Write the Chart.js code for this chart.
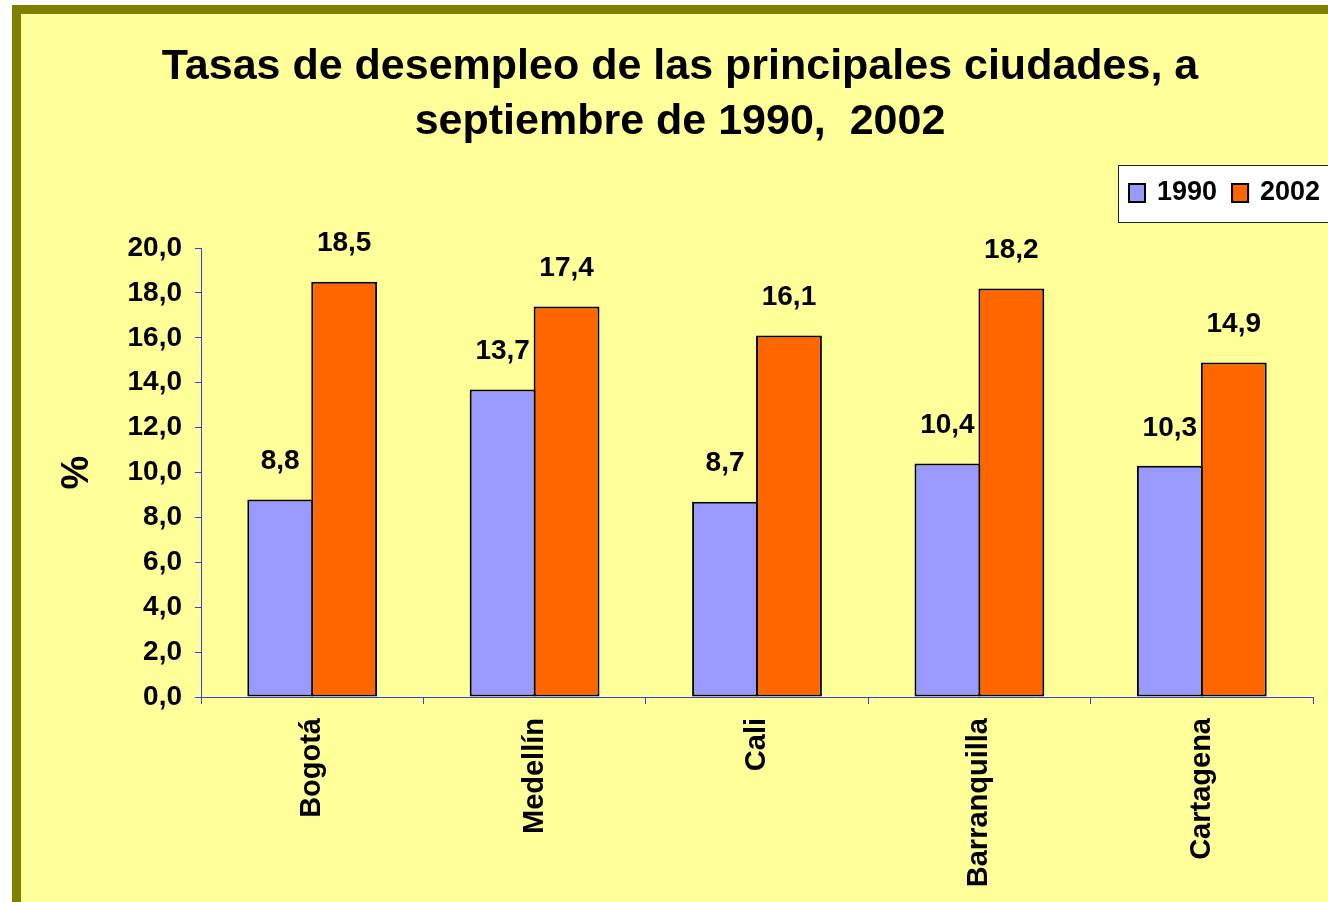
<!DOCTYPE html>
<html>
<head>
<meta charset="utf-8">
<script src="https://cdn.jsdelivr.net/npm/chart.js@4/dist/chart.umd.min.js"></script>
<style>
  html, body { margin: 0; padding: 0; background: #ffffff; overflow: hidden; }
  canvas { display: block; }
</style>
</head>
<body>
<canvas id="grafico" width="1328" height="902"></canvas>
<script>
// datos
const ciudades = ['Bogotá', 'Medellín', 'Cali', 'Barranquilla', 'Cartagena'];
const anios = ['1990', '2002'];
const tasas1990 = [8.8, 13.7, 8.7, 10.4, 10.3];
const tasas2002 = [18.5, 17.4, 16.1, 18.2, 14.9];
const titulo = ['Tasas de desempleo de las principales ciudades, a', 'septiembre de 1990,  2002'];

const fuente = 'Arial, "Liberation Sans", sans-serif';
const azul = '#3a3af0';

function coma(v) {
    return v.toFixed(1).replace('.', ',');
}

// fondo amarillo con marco verde oliva
const fondo = {
    id: 'fondo',
    beforeDraw(chart) {
        const ctx = chart.ctx;
        ctx.save();
        ctx.fillStyle = '#ffffff';
        ctx.fillRect(0, 0, chart.width, chart.height);
        ctx.fillStyle = '#808000';
        ctx.fillRect(12, 5, chart.width - 12, chart.height - 5);
        ctx.fillStyle = '#ffff99';
        ctx.fillRect(21, 14, chart.width - 21, chart.height - 14);
        ctx.restore();
    }
};

// etiquetas de valor encima de cada barra
const etiquetas = {
    id: 'etiquetas',
    afterDatasetsDraw(chart) {
        const ctx = chart.ctx;
        ctx.save();
        ctx.font = 'bold 28px ' + fuente;
        ctx.fillStyle = '#000000';
        ctx.textAlign = 'center';
        ctx.textBaseline = 'middle';
        chart.data.datasets.forEach((ds, i) => {
            chart.getDatasetMeta(i).data.forEach((barra, j) => {
                ctx.fillText(coma(ds.data[j]), barra.x, barra.y - 38);
            });
        });
        ctx.restore();
    }
};

// leyenda en recuadro blanco arriba a la derecha
const leyenda = {
    id: 'leyenda',
    afterDraw(chart) {
        const ctx = chart.ctx;
        ctx.save();
        ctx.fillStyle = '#ffffff';
        ctx.fillRect(1118, 165, 240, 58);
        ctx.strokeStyle = '#222222';
        ctx.lineWidth = 1;
        ctx.strokeRect(1118.5, 165.5, 240, 57);
        ctx.font = 'bold 27px ' + fuente;
        ctx.textBaseline = 'middle';
        let x = 1128;
        chart.data.datasets.forEach(ds => {
            ctx.fillStyle = ds.backgroundColor;
            ctx.fillRect(x, 183, 18, 20);
            ctx.strokeStyle = '#000000';
            ctx.lineWidth = 2;
            ctx.strokeRect(x + 1, 184, 16, 18);
            x += 29;
            ctx.fillStyle = '#000000';
            ctx.fillText(ds.label, x, 193);
            x += ctx.measureText(ds.label).width + 14;
        });
        ctx.restore();
    }
};

Chart.defaults.font.family = fuente;
Chart.defaults.color = '#000000';

new Chart(document.getElementById('grafico'), {
    type: 'bar',
    data: {
        labels: ciudades,
        datasets: [
            {
                label: anios[0],
                data: tasas1990,
                backgroundColor: '#9999ff',
                borderColor: '#000000',
                borderWidth: 2,
                borderSkipped: false
            },
            {
                label: anios[1],
                data: tasas2002,
                backgroundColor: '#ff6600',
                borderColor: '#000000',
                borderWidth: 2,
                borderSkipped: false
            }
        ]
    },
    options: {
        responsive: false,
        animation: false,
        categoryPercentage: 0.575,
        barPercentage: 1.03,
        layout: {
            padding: { left: 47, right: 15, top: 14, bottom: 0 }
        },
        plugins: {
            legend: { display: false },
            tooltip: { enabled: false },
            title: {
                display: true,
                text: titulo,
                color: '#000000',
                font: { size: 43, weight: 'bold', lineHeight: 1.28 },
                padding: { top: 26, bottom: 98 }
            }
        },
        scales: {
            x: {
                afterFit(scale) { scale.height = 205; },
                border: { color: azul, width: 1 },
                grid: {
                    drawOnChartArea: false,
                    drawTicks: true,
                    tickLength: 7,
                    color: azul
                },
                ticks: {
                    autoSkip: false,
                    maxRotation: 90,
                    minRotation: 90,
                    padding: 14,
                    font: { size: 29, weight: 'bold' }
                }
            },
            y: {
                min: 0,
                max: 20,
                afterFit(scale) { scale.width = 154; },
                border: { color: azul, width: 1 },
                grid: {
                    drawOnChartArea: false,
                    drawTicks: true,
                    tickLength: 6,
                    color: azul
                },
                ticks: {
                    stepSize: 2,
                    padding: 13,
                    font: { size: 28, weight: 'bold' },
                    callback: v => coma(v)
                },
                title: {
                    display: true,
                    text: '%',
                    font: { size: 38, weight: 'bold' },
                    padding: { top: 8, bottom: 0 }
                }
            }
        }
    },
    plugins: [fondo, etiquetas, leyenda]
});
</script>
</body>
</html>
